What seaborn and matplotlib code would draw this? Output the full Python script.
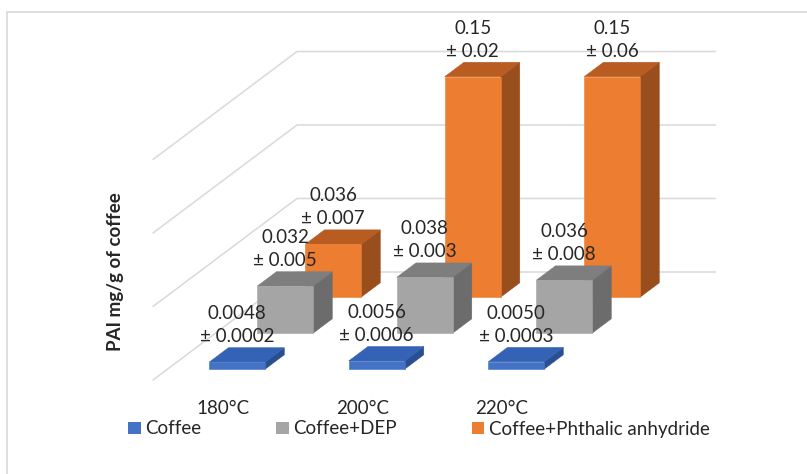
# %%
import numpy as np
import pandas as pd
import matplotlib.pyplot as plt
from matplotlib.patches import Polygon, Patch, Rectangle
import seaborn as sns

sns.set_theme(style="white")
plt.rcParams['font.family'] = ['Lato', 'DejaVu Sans']

# %% data
temps = ["180°C", "200°C", "220°C"]
series = ["Coffee", "Coffee+DEP", "Coffee+Phthalic anhydride"]
coffee = [0.0048, 0.0056, 0.0050]
coffee_dep = [0.032, 0.038, 0.036]
coffee_pa = [0.036, 0.15, 0.15]
coffee_lbl = ["0.0048\n± 0.0002", "0.0056\n± 0.0006", "0.0050\n± 0.0003"]
coffee_dep_lbl = ["0.032\n± 0.005", "0.038\n± 0.003", "0.036\n± 0.008"]
coffee_pa_lbl = ["0.036\n± 0.007", "0.15\n± 0.02", "0.15\n± 0.06"]
gridvals = [0, 0.05, 0.10, 0.15]

df = pd.DataFrame({
    "temp": temps * 3,
    "series": np.repeat(series, 3),
    "pai": coffee + coffee_dep + coffee_pa,
    "label": coffee_lbl + coffee_dep_lbl + coffee_pa_lbl,
})

pal = sns.color_palette(["#4472C4", "#A5A5A5", "#ED7D31"])
tops = ["#3462B4", "#7E7E7E", "#B95C22"]
sides = ["#2A4F91", "#6C6C6C", "#994E1D"]
FS = 13.5

# %% oblique "3d" projection (depth in series steps)
DX = 48 / 139.5     # x shift per series step (category units)
DY = 36 / 1470      # y shift per series step (value units)
NDEPTH = 3

def proj(x, d, v):
    return (x + d * DX, v + d * DY)

W, H = 807, 474
fig = plt.figure(figsize=(W / 100, H / 100), dpi=100)
ax = fig.add_axes([153 / W, (H - 380) / H, (NDEPTH + NDEPTH * DX) * 139.5 / W,
                   (0.15 + NDEPTH * DY) * 1470 / H])
ax.set_xlim(0, len(temps) + NDEPTH * DX)
ax.set_ylim(0, 0.15 + NDEPTH * DY)
ax.axis("off")

# chart border (only top/left visible in the crop)
fig.patches.append(Rectangle((7 / W, -0.5), 2, 1.5 - 12 / H, transform=fig.transFigure,
                             fill=False, ec="#d9d9d9", lw=1.2))

# walls gridlines
for v in gridvals:
    pts = [proj(0, 0, v), proj(0, NDEPTH, v), proj(len(temps), NDEPTH, v)]
    ax.plot(*zip(*pts), color="#d9d9d9", lw=1.1, zorder=1, clip_on=False)

# bars, back series first
for s in reversed(range(len(series))):
    sub = df[df.series == series[s]].reset_index(drop=True)
    d0, d1 = s + 0.3, s + 0.7
    for i, row in sub.iterrows():
        x0, x1, h = i + 0.3, i + 0.7, row.pai
        front = [proj(x0, d0, 0), proj(x1, d0, 0), proj(x1, d0, h), proj(x0, d0, h)]
        top = [proj(x0, d0, h), proj(x1, d0, h), proj(x1, d1, h), proj(x0, d1, h)]
        side = [proj(x1, d0, 0), proj(x1, d1, 0), proj(x1, d1, h), proj(x1, d0, h)]
        z = 3 + (2 - s)
        ax.add_patch(Polygon(side, fc=sides[s], ec=sides[s], lw=0.4, zorder=z, clip_on=False))
        ax.add_patch(Polygon(top, fc=tops[s], ec=tops[s], lw=0.4, zorder=z, clip_on=False))
        ax.add_patch(Polygon(front, fc=pal[s], ec=pal[s], lw=0.4, zorder=z, clip_on=False))
        lx, ly = proj(i + 0.5, d0, h)
        ax.text(lx, ly + 37 / 1470, row.label, ha="center", va="center",
                fontsize=FS, linespacing=1.45, zorder=10, clip_on=False)

# category labels
for i, t in enumerate(temps):
    ax.text(i + 0.5, -28 / 1470, t, ha="center", va="center", fontsize=FS, clip_on=False)

fig.text(115 / W, 1 - 272 / H, "PAI mg/g of coffee", rotation=90, ha="center",
         va="center", fontsize=FS, fontweight="bold")

handles = [Patch(fc=pal[s], ec="none") for s in range(len(series))]
fig.legend(handles, series, loc="center", bbox_to_anchor=(419 / W, 1 - 429 / H),
           ncol=3, frameon=False, fontsize=FS, handlelength=0.65, handleheight=0.65,
           handletextpad=0.25, columnspacing=4.0, borderaxespad=0, borderpad=0)

fig.savefig("out.png", dpi=100)
